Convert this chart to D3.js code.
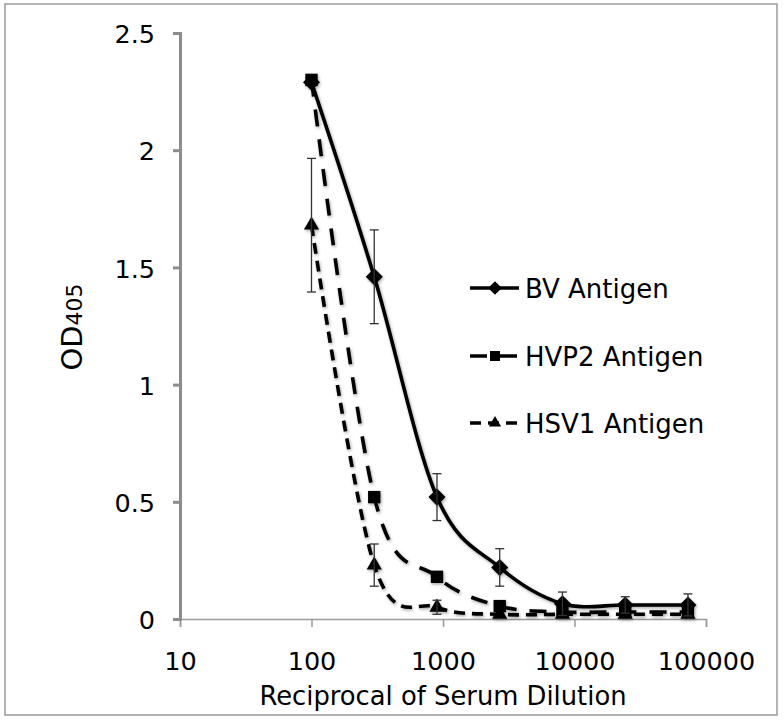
<!DOCTYPE html>
<html>
<head>
<meta charset="utf-8">
<script src="https://cdn.jsdelivr.net/npm/d3@7"></script>
<style>
  body { margin: 0; background: #fff; }
  svg { display: block; font-family: "DejaVu Sans", Verdana, sans-serif; }
</style>
</head>
<body>
<div id="chart"></div>
<script>
/* Data */

const dilutions = [100, 300, 900, 2700, 8100, 24300, 72900];
const bvValues = [2.29, 1.46, 0.52, 0.22, 0.065, 0.06, 0.06];
const bvErrors = [0, 0.2, 0.1, 0.08, 0.05, 0.035, 0.047];
const hvp2Values = [2.3, 0.52, 0.18, 0.055, 0.03, 0.03, 0.03];
const hsv1Values = [1.68, 0.23, 0.05, 0.02, 0.02, 0.02, 0.02];
const hsv1Errors = [0.285, 0.09, 0.03, 0, 0, 0, 0];

const seriesNames = ['BV Antigen', 'HVP2 Antigen', 'HSV1 Antigen'];
const xTicks = [10, 100, 1000, 10000, 100000];
const yTicks = [0, 0.5, 1, 1.5, 2, 2.5];

/* Setup */

const width = 784, height = 720;
const svg = d3.select('#chart').append('svg')
    .attr('width', width)
    .attr('height', height);

const defs = svg.append('defs');
defs.append('filter').attr('id', 'shadow')
    .attr('x', '-50%').attr('y', '-50%').attr('width', '200%').attr('height', '200%')
  .append('feDropShadow')
    .attr('dx', 1).attr('dy', 1.5).attr('stdDeviation', 1.5)
    .attr('flood-color', '#000').attr('flood-opacity', 0.35);

// outer frame
svg.append('rect')
    .attr('x', 5).attr('y', 4)
    .attr('width', 772).attr('height', 711)
    .attr('fill', 'none')
    .attr('stroke', '#9a9a9a')
    .attr('stroke-width', 1.5);

const x = d3.scaleLog().domain([10, 100000]).range([180, 706]);
const y = d3.scaleLinear().domain([0, 2.5]).range([619, 33]);

/* Axes */

const xAxis = svg.append('g')
    .attr('transform', `translate(0,${y(0)})`)
    .call(d3.axisBottom(x).tickValues(xTicks).tickSize(8).tickPadding(25)
      .tickFormat(d3.format('d')));
xAxis.select('.domain').attr('stroke', '#9a9a9a').attr('stroke-width', 1.5);
xAxis.selectAll('.tick line').attr('stroke', '#9a9a9a').attr('stroke-width', 1.5);
xAxis.selectAll('.tick text')
    .attr('font-size', 25.5).attr('fill', '#000')
    .attr('font-family', '"DejaVu Sans", Verdana, sans-serif');

const yAxis = svg.append('g')
    .attr('transform', `translate(${x(10)},0)`)
    .call(d3.axisLeft(y).tickValues(yTicks).tickSize(7).tickPadding(18)
      .tickFormat(d => String(d)));
yAxis.select('.domain').attr('stroke', '#8c8c8c').attr('stroke-width', 3);
yAxis.selectAll('.tick line').attr('stroke', '#8c8c8c').attr('stroke-width', 3);
yAxis.selectAll('.tick text')
    .attr('font-size', 25.5).attr('fill', '#000').attr('dy', '0.38em')
    .attr('font-family', '"DejaVu Sans", Verdana, sans-serif');

// axis titles
svg.append('text')
    .attr('x', 443).attr('y', 705)
    .attr('text-anchor', 'middle')
    .attr('font-size', 25.8)
    .text('Reciprocal of Serum Dilution');

const yTitle = svg.append('text')
    .attr('transform', 'translate(82,327) rotate(-90)')
    .attr('text-anchor', 'middle');
yTitle.append('tspan').attr('font-size', 29).text('OD');
yTitle.append('tspan').attr('font-size', 22).text('405');

/* Series */

const series = [
  { name: seriesNames[0], values: bvValues, errors: bvErrors, dash: null, marker: d3.symbolDiamond2, size: 185 },
  { name: seriesNames[1], values: hvp2Values, errors: null, dash: '17,13', marker: d3.symbolSquare2, size: 195 },
  { name: seriesNames[2], values: hsv1Values, errors: hsv1Errors, dash: '11,7', marker: d3.symbolTriangle2, size: 165 }
];

const line = d3.line()
    .x(d => x(d[0]))
    .y(d => y(d[1]))
    .curve(d3.curveCatmullRom.alpha(0));

const plot = svg.append('g').attr('filter', 'url(#shadow)');

series.forEach(s => {
  plot.append('path')
      .datum(dilutions.map((dil, i) => [dil, s.values[i]]))
      .attr('d', line)
      .attr('fill', 'none')
      .attr('stroke', '#000')
      .attr('stroke-width', 3.6)
      .attr('stroke-dasharray', s.dash);
});

// error bars
const errG = svg.append('g').attr('stroke', '#333').attr('stroke-width', 1.3);
series.filter(s => s.errors).forEach(s => {
  dilutions.forEach((dil, i) => {
    const e = s.errors[i];
    if (!e) return;
    const cx = x(dil), y1 = y(s.values[i] + e), y0 = y(Math.max(0, s.values[i] - e));
    errG.append('line').attr('x1', cx).attr('x2', cx).attr('y1', y1).attr('y2', y0);
    errG.append('line').attr('x1', cx - 4.5).attr('x2', cx + 4.5).attr('y1', y1).attr('y2', y1);
    if (s.values[i] - e > 0) {
      errG.append('line').attr('x1', cx - 4.5).attr('x2', cx + 4.5).attr('y1', y0).attr('y2', y0);
    }
  });
});

// markers
series.forEach(s => {
  plot.selectAll(null)
      .data(dilutions.map((dil, i) => [dil, s.values[i]]))
      .join('path')
      .attr('transform', d => `translate(${x(d[0])},${y(d[1])})`)
      .attr('d', d3.symbol().type(s.marker).size(s.size))
      .attr('fill', '#000');
});

/* Legend */

const legendRows = [288, 356, 423];
const legend = svg.append('g');
series.forEach((s, i) => {
  const row = legend.append('g').attr('transform', `translate(0,${legendRows[i]})`);
  row.append('line')
      .attr('x1', 470).attr('x2', 519)
      .attr('stroke', '#000').attr('stroke-width', 3.6)
      .attr('stroke-dasharray', s.dash);
  row.append('path')
      .attr('transform', 'translate(495,0)')
      .attr('d', d3.symbol().type(s.marker).size(s.size * 0.65))
      .attr('fill', '#000');
  row.append('text')
      .attr('x', 525).attr('y', 10)
      .attr('font-size', 26)
      .text(s.name);
});
</script>
</body>
</html>
